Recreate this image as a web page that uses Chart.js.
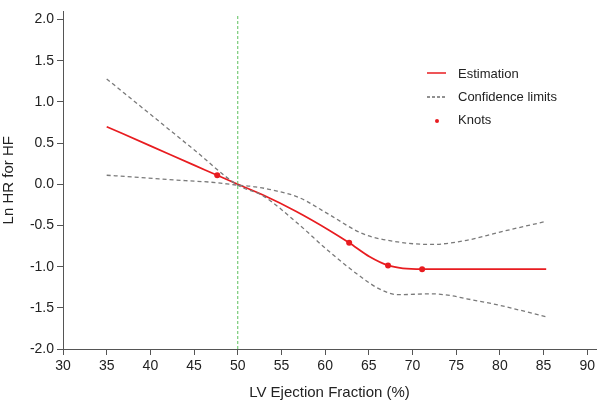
<!DOCTYPE html>
<html>
<head>
<meta charset="utf-8">
<script src="https://cdn.jsdelivr.net/npm/chart.js@4.4.0/dist/chart.umd.min.js"></script>
<style>
  html, body { margin: 0; padding: 0; background: #fff; }
  #wrap { width: 600px; height: 402px; }
</style>
</head>
<body>
<div id="wrap"><canvas id="graficoSpline"></canvas></div>
<script>
// datos
const estX = [35, 40, 45, 47.65, 50, 52.9, 56.7, 60.5, 62.75, 65.1, 67.2, 68.9, 71.1, 75, 80, 85.3];
const estY = [0.70, 0.467, 0.233, 0.11, 0.0, -0.13, -0.33, -0.56, -0.71, -0.88, -0.985, -1.02, -1.03, -1.03, -1.03, -1.03];

// curva empinada: limite superior a la izquierda, inferior a la derecha
const steepX = [35, 40, 45, 50, 52.9, 56.7, 60.5, 64.3, 66.2, 68.3, 72.2, 74.3, 76.2, 80, 85.3];
const steepY = [1.28, 0.85, 0.42, -0.01, -0.14, -0.46, -0.82, -1.14, -1.27, -1.34, -1.33, -1.35, -1.39, -1.47, -1.61];

// curva plana: limite inferior a la izquierda, superior a la derecha
const flatX = [35, 38, 41, 44, 47, 50, 52, 54, 57, 60.5, 64.3, 68.3, 72.2, 76.2, 80, 85.3];
const flatY = [0.11, 0.09, 0.065, 0.045, 0.025, -0.01, -0.03, -0.07, -0.16, -0.37, -0.60, -0.70, -0.73, -0.68, -0.58, -0.45];

const knotX = [47.65, 62.75, 67.2, 71.1];
const knotY = [0.11, -0.71, -0.985, -1.03];

const refX = 50;
const xTicks = [30, 35, 40, 45, 50, 55, 60, 65, 70, 75, 80, 85, 90];
const yTicks = [-2.0, -1.5, -1.0, -0.5, 0.0, 0.5, 1.0, 1.5, 2.0];

const leyenda = ['Estimation', 'Confidence limits', 'Knots'];

const rojo = 'rgb(232,28,32)';
const gris = '#7a7a7a';

const toPts = (xs, ys) => xs.map((x, i) => ({ x: x, y: ys[i] }));

// leyenda dibujada dentro del area
const leyendaPlugin = {
    id: 'leyendaPlugin',
    afterDraw(chart) {
        const ctx = chart.ctx;
        ctx.save();
        ctx.font = '13px "Liberation Sans", Arial, sans-serif';
        ctx.textBaseline = 'middle';
        const x0 = 427, x1 = 446, tx = 458;
        const ys = [74, 97, 120];
        // Estimation
        ctx.strokeStyle = rojo; ctx.lineWidth = 1.5; ctx.setLineDash([]);
        ctx.beginPath(); ctx.moveTo(x0, ys[0] - 1); ctx.lineTo(x1, ys[0] - 1); ctx.stroke();
        // Confidence limits
        ctx.strokeStyle = '#222'; ctx.lineWidth = 1; ctx.setLineDash([3, 2]);
        ctx.beginPath(); ctx.moveTo(x0, ys[1]); ctx.lineTo(x1, ys[1]); ctx.stroke();
        ctx.setLineDash([]);
        // Knots
        ctx.fillStyle = rojo;
        ctx.beginPath(); ctx.arc(437, ys[2] + 1, 2, 0, Math.PI * 2); ctx.fill();
        ctx.fillStyle = '#222';
        leyenda.forEach((t, i) => ctx.fillText(t, tx, ys[i]));
        ctx.restore();
    }
};

const fuente = { family: '"Liberation Sans", Arial, sans-serif', size: 14 };

new Chart(document.getElementById('graficoSpline'), {
    type: 'line',
    data: {
        datasets: [
            {
                label: 'ref',
                data: [{ x: refX, y: -2.0 }, { x: refX, y: 2.06 }],
                borderColor: '#5cc05c',
                borderWidth: 1,
                borderDash: [3, 2],
                pointRadius: 0
            },
            {
                label: 'steep',
                data: toPts(steepX, steepY),
                borderColor: gris,
                borderWidth: 1.3,
                borderDash: [4, 3],
                pointRadius: 0,
                cubicInterpolationMode: 'monotone'
            },
            {
                label: 'flat',
                data: toPts(flatX, flatY),
                borderColor: gris,
                borderWidth: 1.3,
                borderDash: [4, 3],
                pointRadius: 0,
                cubicInterpolationMode: 'monotone'
            },
            {
                label: 'Estimation',
                data: toPts(estX, estY),
                borderColor: rojo,
                borderWidth: 1.7,
                pointRadius: 0,
                cubicInterpolationMode: 'monotone'
            },
            {
                label: 'Knots',
                data: toPts(knotX, knotY),
                showLine: false,
                pointRadius: 3,
                pointBackgroundColor: rojo,
                pointBorderColor: rojo,
                pointBorderWidth: 0
            }
        ]
    },
    options: {
        responsive: true,
        maintainAspectRatio: false,
        animation: false,
        layout: { padding: { left: 0, top: 5, right: 4, bottom: 0 } },
        plugins: {
            legend: { display: false },
            tooltip: { enabled: false }
        },
        scales: {
            x: {
                type: 'linear',
                min: 30,
                max: 91,
                afterBuildTicks: (scale) => { scale.ticks = xTicks.map(v => ({ value: v })); },
                afterFit: (scale) => { scale.height = 53; },
                ticks: { font: fuente, color: '#222', padding: 3, maxRotation: 0 },
                grid: { drawOnChartArea: false, drawTicks: true, tickLength: 6, color: '#555' },
                border: { color: '#555', width: 1 },
                title: {
                    display: true,
                    text: 'LV Ejection Fraction (%)',
                    font: { family: fuente.family, size: 15 },
                    color: '#222',
                    padding: { top: 6, bottom: 0 }
                }
            },
            y: {
                type: 'linear',
                min: -2.0,
                max: 2.1,
                afterBuildTicks: (scale) => { scale.ticks = yTicks.map(v => ({ value: v })); },
                afterFit: (scale) => { scale.width = 63; },
                ticks: {
                    font: fuente,
                    color: '#222',
                    padding: 3,
                    callback: (v) => Number(v).toFixed(1)
                },
                grid: { drawOnChartArea: false, drawTicks: true, tickLength: 6, color: '#555' },
                border: { color: '#555', width: 1 },
                title: {
                    display: true,
                    text: 'Ln HR for HF',
                    font: { family: fuente.family, size: 15 },
                    color: '#222',
                    padding: { top: 0, bottom: 2 }
                }
            }
        }
    },
    plugins: [leyendaPlugin]
});
</script>
</body>
</html>
